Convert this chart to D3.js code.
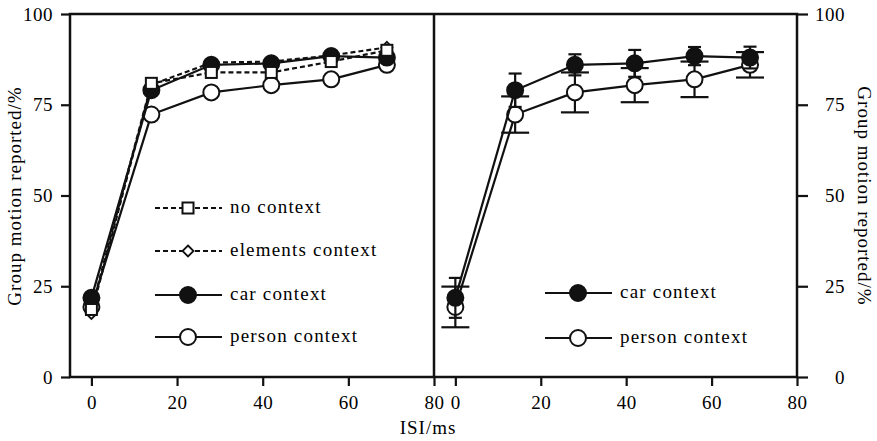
<!DOCTYPE html>
<html>
<head>
<meta charset="utf-8">
<script src="https://cdn.jsdelivr.net/npm/d3@7"></script>
<style>
  body { margin: 0; background: #fff; }
  svg { display: block; }
  text { font-family: "Liberation Serif", "Times New Roman", serif; fill: #000; }
</style>
</head>
<body>
<svg width="877" height="441"></svg>
<script>
// ISI values (ms) and percentages
var isi = [0, 14, 28, 42, 56, 69];
var noContext = [18.6, 80.9, 83.9, 83.9, 86.9, 90.0];
var elementsContext = [17.5, 80.5, 86.6, 86.9, 88.6, 90.8];
var carContext = [21.8, 79.0, 86.0, 86.4, 88.4, 88.0];
var personContext = [19.3, 72.3, 78.4, 80.4, 82.0, 86.0];
var carErr = [5.5, 4.6, 2.9, 3.7, 2.5, 3.0];
var personErr = [5.6, 5.0, 5.5, 4.7, 4.9, 3.5];

var xTicks = [0, 20, 40, 60, 80];
var yTicks = [0, 25, 50, 75, 100];
var leftLegend = ["no context", "elements context", "car context", "person context"];
var rightLegend = ["car context", "person context"];

var svg = d3.select('svg');
var ink = '#111';

var x1 = d3.scaleLinear().domain([-5, 80]).range([70, 434]);
var x2 = d3.scaleLinear().domain([-5, 80]).range([434, 797]);
var y = d3.scaleLinear().domain([0, 100]).range([377, 14]);

// frame round both panels
svg.append('rect')
  .attr('x', 70).attr('y', 14)
  .attr('width', 797 - 70).attr('height', 377 - 14)
  .attr('fill', 'none').attr('stroke', ink).attr('stroke-width', 2.5);
svg.append('line')
  .attr('x1', 434).attr('x2', 434).attr('y1', 14).attr('y2', 377)
  .attr('stroke', ink).attr('stroke-width', 2.5);

function styleAxis(g) {
  g.select('.domain').remove();
  g.selectAll('line').attr('stroke', ink).attr('stroke-width', 2.2);
  g.selectAll('text').attr('font-size', 19).attr('letter-spacing', 0.5)
    .style('font-family', '"Liberation Serif", "Times New Roman", serif').attr('fill', '#000');
}

svg.append('g').attr('transform', 'translate(70,0)')
  .call(d3.axisLeft(y).tickValues(yTicks).tickSize(9).tickPadding(8))
  .call(styleAxis);

svg.append('g').attr('transform', 'translate(797,0)')
  .call(d3.axisRight(y).tickValues(yTicks).tickSize(11).tickPadding(8))
  .call(styleAxis)
  .selectAll('text').attr('text-anchor', 'end').attr('x', 48);

svg.append('g').attr('transform', 'translate(0,377)')
  .call(d3.axisBottom(x1).tickValues(xTicks).tickSize(9).tickPadding(9.5))
  .call(styleAxis);
svg.append('g').attr('transform', 'translate(0,377)')
  .call(d3.axisBottom(x2).tickValues(xTicks).tickSize(9).tickPadding(9.5))
  .call(styleAxis);

// axis titles
svg.append('text')
  .attr('transform', 'translate(21,196) rotate(-90)')
  .attr('text-anchor', 'middle').attr('font-size', 19).attr('letter-spacing', 1)
  .text('Group motion reported/%');
svg.append('text')
  .attr('transform', 'translate(858,196) rotate(90)')
  .attr('text-anchor', 'middle').attr('font-size', 19).attr('letter-spacing', 1)
  .text('Group motion reported/%');
svg.append('text')
  .attr('x', 428).attr('y', 434)
  .attr('text-anchor', 'middle').attr('font-size', 19).attr('letter-spacing', 1)
  .text('ISI/ms');

// markers
function marker(g, kind, cx, cy) {
  if (kind == 'square') {
    g.append('rect').attr('x', cx - 5.5).attr('y', cy - 5.5)
      .attr('width', 11).attr('height', 11)
      .attr('fill', '#fff').attr('stroke', ink).attr('stroke-width', 2);
  } else if (kind == 'diamond') {
    var s = 5.5;
    g.append('path')
      .attr('d', 'M' + cx + ',' + (cy - s) + 'L' + (cx + s) + ',' + cy + 'L' + cx + ',' + (cy + s) + 'L' + (cx - s) + ',' + cy + 'Z')
      .attr('fill', '#fff').attr('stroke', ink).attr('stroke-width', 1.8);
  } else {
    g.append('circle').attr('cx', cx).attr('cy', cy).attr('r', 8)
      .attr('fill', kind == 'filled' ? ink : '#fff')
      .attr('stroke', ink).attr('stroke-width', 2);
  }
}

function series(x, values, kind, dashed, errs, cap) {
  var g = svg.append('g');
  var line = d3.line()
    .x(function(d, i) { return x(isi[i]) })
    .y(function(d) { return y(d) });
  g.append('path')
    .attr('d', line(values))
    .attr('fill', 'none').attr('stroke', ink).attr('stroke-width', 2.2)
    .attr('stroke-dasharray', dashed ? '5,3' : null);
  if (errs) {
    values.forEach(function(v, i) {
      var cx = x(isi[i]);
      g.append('line').attr('x1', cx).attr('x2', cx)
        .attr('y1', y(v - errs[i])).attr('y2', y(v + errs[i]))
        .attr('stroke', ink).attr('stroke-width', 2.2);
      [v - errs[i], v + errs[i]].forEach(function(e) {
        g.append('line').attr('x1', cx - cap).attr('x2', cx + cap)
          .attr('y1', y(e)).attr('y2', y(e))
          .attr('stroke', ink).attr('stroke-width', 2.2);
      });
    });
  }
  values.forEach(function(v, i) {
    marker(g, kind, x(isi[i]), y(v));
  });
}

// left panel
series(x1, personContext, 'open', false);
series(x1, elementsContext, 'diamond', true);
series(x1, carContext, 'filled', false);
series(x1, noContext, 'square', true);

// right panel, with error bars
series(x2, personContext, 'open', false, personErr, 14);
series(x2, carContext, 'filled', false, carErr, 6.5);

// legends
function legend(items, kinds, dashes, lx, ys) {
  items.forEach(function(name, i) {
    var g = svg.append('g');
    g.append('line').attr('x1', lx).attr('x2', lx + 67)
      .attr('y1', ys[i]).attr('y2', ys[i])
      .attr('stroke', ink).attr('stroke-width', 2.2)
      .attr('stroke-dasharray', dashes[i] ? '5,3' : null);
    marker(g, kinds[i], lx + 33, ys[i]);
    g.append('text').attr('x', lx + 75).attr('y', ys[i] + 5)
      .attr('font-size', 19).attr('letter-spacing', 1.2)
      .text(name);
  });
}

legend(leftLegend, ['square', 'diamond', 'filled', 'open'], [true, true, false, false],
  155, [208, 251, 295, 337]);
legend(rightLegend, ['filled', 'open'], [false, false], 545, [293, 338]);
</script>
</body>
</html>
